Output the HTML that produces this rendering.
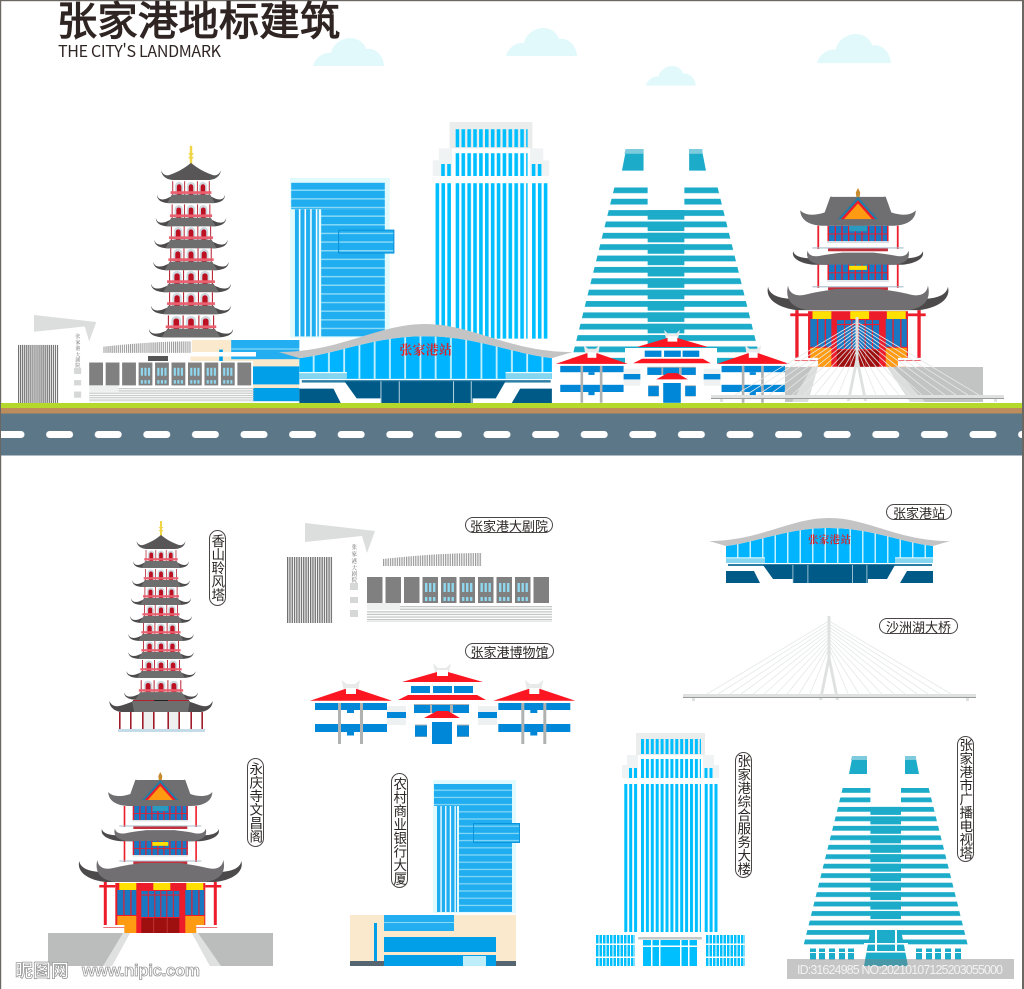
<!DOCTYPE html>
<html lang="zh"><head><meta charset="utf-8"><title>张家港地标建筑</title>
<style>
html,body{margin:0;padding:0;background:#fff}
#w{position:relative;width:1024px;height:989px;overflow:hidden;background:#fff;font-family:"Liberation Sans","Noto Sans CJK SC",sans-serif}
svg{position:absolute;left:0;top:0}
.l{position:absolute;box-sizing:border-box;background:#fff;border:1px solid #4a4646;border-radius:9px;color:#2b2424;font-size:13px;line-height:1;display:flex;align-items:center;justify-content:center;white-space:nowrap;font-family:"Noto Sans CJK SC",sans-serif}
.v{writing-mode:vertical-rl;text-orientation:upright;font-size:13.5px}
</style></head><body><div id="w">
<svg width="1024" height="989" viewBox="0 0 1024 989" xmlns="http://www.w3.org/2000/svg">
<defs>
<pattern id="pT" patternUnits="userSpaceOnUse" x="641" y="0" width="4.9" height="10"><rect width="3" height="10" fill="#00bfff"/></pattern>
<pattern id="pG" patternUnits="userSpaceOnUse" x="596" y="0" width="3.5" height="10"><rect width="2.5" height="10" fill="#00bfff"/></pattern>
<pattern id="pR" patternUnits="userSpaceOnUse" x="0" y="788" width="10" height="9.47"><rect width="10" height="4.8" fill="#1cacc9"/></pattern>
<pattern id="pB" patternUnits="userSpaceOnUse" x="0" y="784" width="10" height="7.2"><rect width="10" height="7.2" fill="#20aef0"/><rect y="5.6" width="10" height="1.2" fill="#8ad9f7"/></pattern>
<pattern id="pBv" patternUnits="userSpaceOnUse" x="437" y="0" width="4.7" height="10"><rect width="3.4" height="10" fill="#20aef0"/></pattern>
<pattern id="pH" patternUnits="userSpaceOnUse" x="287" y="0" width="2.3" height="10"><rect width="1.3" height="10" fill="#6f6f6f"/></pattern>
<pattern id="pA" patternUnits="userSpaceOnUse" x="383" y="0" width="2.3" height="10"><rect width="1.2" height="10" fill="#999"/></pattern>
<pattern id="pS" patternUnits="userSpaceOnUse" x="0" y="606" width="10" height="2.6"><rect width="10" height="1.3" fill="#c4c6c6"/></pattern>
<pattern id="pGl" patternUnits="userSpaceOnUse" x="726" y="0" width="12.5" height="10"><rect x="11" width="1.5" height="10" fill="#c2f0fc"/></pattern>
<pattern id="pD" patternUnits="userSpaceOnUse" x="-2.5" y="431" width="48.6" height="10"><rect width="27" height="7" rx="3.5" fill="#fff"/></pattern>

<path id="cl" d="M0,28C2,20 10,14 18,15C20,5 30,0 37,0C46,0 52,6 53,11C62,9 71,18 71,28Z" fill="#e2f9fb"/>

<g id="tw">
<rect x="636" y="733" width="69" height="22" fill="#ebecec"/>
<rect x="627" y="755" width="87" height="10" fill="#f0f3f3"/>
<rect x="622" y="765" width="97" height="13" fill="#f0f3f3"/>
<rect x="638" y="755" width="65" height="25" fill="#fff"/>
<rect x="641" y="739" width="60" height="15" fill="url(#pT)"/>
<rect x="641" y="759" width="60" height="19" fill="url(#pT)"/>
<g fill="#00bfff"><rect x="629" y="768" width="3" height="10"/><rect x="634" y="768" width="3" height="10"/><rect x="704.5" y="768" width="3" height="10"/><rect x="709.5" y="768" width="3" height="10"/>
<rect x="624.3" y="784" width="3" height="148"/><rect x="629.2" y="784" width="3" height="148"/><rect x="634.1" y="784" width="3" height="148"/><rect x="704.7" y="784" width="3" height="148"/><rect x="709.6" y="784" width="3" height="148"/><rect x="714.5" y="784" width="3" height="148"/></g>
<rect x="641" y="784" width="60" height="148" fill="url(#pT)"/>
</g>

<g id="rd">
<path d="M852.5,756H867V774H849Z" fill="#1cacc9"/><path d="M905,756H915.5L919,774H905Z" fill="#1cacc9"/>
<path d="M852,756H867V760H851Z" fill="#7ecbdd"/><path d="M905,756H916V760H905Z" fill="#7ecbdd"/>
<path d="M842.7,788H928.7L968.5,948H802.9Z" fill="url(#pR)"/>
<rect x="870.4" y="786" width="30.6" height="20" fill="#fff"/>
<g fill="#1cacc9"><rect x="870.4" y="806.9" width="30.6" height="8"/><rect x="870.4" y="816.4" width="30.6" height="8"/><rect x="870.4" y="825.8" width="30.6" height="8"/><rect x="870.4" y="835.3" width="30.6" height="8"/><rect x="870.4" y="844.8" width="30.6" height="8"/><rect x="870.4" y="854.2" width="30.6" height="8"/><rect x="870.4" y="863.7" width="30.6" height="8"/><rect x="870.4" y="873.2" width="30.6" height="8"/><rect x="870.4" y="882.7" width="30.6" height="8"/><rect x="870.4" y="892.1" width="30.6" height="8"/><rect x="870.4" y="901.6" width="30.6" height="8"/><rect x="870.4" y="911.1" width="30.6" height="8"/></g>
</g>

<g id="bk">
<rect x="350" y="915" width="166" height="51" fill="#fbe9cd"/>
<rect x="433" y="780" width="83" height="133" fill="#e0fafd"/>
<rect x="434" y="784" width="78" height="22" fill="url(#pB)"/>
<rect x="437" y="806" width="20" height="106" fill="#fff"/>
<rect x="437" y="806" width="20" height="106" fill="url(#pBv)"/>
<rect x="459" y="806" width="53" height="106" fill="url(#pB)"/>
<rect x="473.5" y="823.5" width="46" height="19" fill="url(#pB)" stroke="#0c95dd"/>
<rect x="384" y="915" width="70" height="16" fill="#22aef0"/><rect x="384" y="922" width="70" height="1" fill="#8ad9f7"/>
<rect x="384" y="937" width="112" height="15" fill="#009fe8"/>
<rect x="384" y="955" width="112" height="11" fill="#009fe8"/>
<rect x="463" y="956" width="23" height="10" fill="#bfeefb"/>
<rect x="350" y="961" width="34" height="5" fill="#566670"/><rect x="496" y="961" width="20" height="5" fill="#566670"/>
<rect x="374" y="923" width="3" height="38" fill="#009fe8"/>
</g>

<g id="tier"><path d="M-30,-7C-29,-3 -26,-2.5 -22,-3.5L-14,-7H14L22,-3.5C26,-2.5 29,-3 30,-7C30,-2.5 26,0 18,0H-18C-26,0 -30,-2.5 -30,-7Z" fill="#4d4b4c"/><path d="M-17,-7H17L21,0H-21Z" fill="#6f6e6f"/></g>
<g id="bd">
<rect x="-17" y="-18" width="34" height="12" fill="#fff"/>
<g fill="#b5202f"><rect x="-16.5" y="-18" width=".8" height="12"/><rect x="-6" y="-18" width=".8" height="12"/><rect x="5.2" y="-18" width=".8" height="12"/><rect x="15.7" y="-18" width=".8" height="12"/></g>
<g fill="#ced8de"><path d="M-14,-7V-14A3.5,3.5 0 0 1 -7,-14V-7Z"/><path d="M-3.5,-7V-14A3.5,3.5 0 0 1 3.5,-14V-7Z"/><path d="M7,-7V-14A3.5,3.5 0 0 1 14,-14V-7Z"/></g>
<g fill="#bd1022"><path d="M-12.5,-7V-13.5A2,2 0 0 1 -8.5,-13.5V-7Z"/><path d="M-2,-7V-13.5A2,2 0 0 1 2,-13.5V-7Z"/><path d="M8.5,-7V-13.5A2,2 0 0 1 12.5,-13.5V-7Z"/></g>
<rect x="-18" y="-9.8" width="36" height="2.2" fill="#e9606f"/>
</g>
<g id="pgd">
<rect x="-1" y="-28" width="2" height="15" fill="#f0d545"/><rect x="-2" y="-22" width="4" height="1.2" fill="#f0d545"/><rect x="-2" y="-19" width="4" height="1.2" fill="#f0d545"/>
<g transform="translate(0,19)scale(.93,1)"><use href="#bd"/><use href="#tier"/></g>
<path d="M0,-14C-6,-9 -12,-6 -18,-4C-20,-3.5 -23,-4 -24.5,-8C-24,-2.5 -19,0 -14,0H14C19,0 24,-2.5 24.5,-8C23,-4 20,-3.5 18,-4C12,-6 6,-9 0,-14Z" fill="#585657"/>
<g transform="translate(0,38)scale(.96,1)"><use href="#bd"/><use href="#tier"/></g>
<g transform="translate(0,56)"><use href="#bd"/><use href="#tier"/></g>
<g transform="translate(0,74)scale(1.03,1)"><use href="#bd"/><use href="#tier"/></g>
<g transform="translate(0,92)scale(1.09,1)"><use href="#bd"/><use href="#tier"/></g>
<g transform="translate(0,110)scale(1.09,1)"><use href="#bd"/><use href="#tier"/></g>
<g transform="translate(0,129)scale(1.15,1)"><use href="#bd"/><use href="#tier"/></g>
</g>
<g id="pgl">
<g transform="translate(0,151)scale(1.23,1.1)"><use href="#bd"/><use href="#tier"/></g>
<rect x="-28" y="151" width="56" height="1.2" fill="#b5202f"/><rect x="-7" y="151" width="14" height="1.2" fill="#222"/>
<path d="M-51.5,152C-49,158 -44,158 -38,156C-32,154 -28,152 -24,152H24C28,152 32,154 38,156C44,158 49,158 51.5,152C52,158 46,163 38,163H-38C-46,163 -52,158 -51.5,152Z" fill="#4d4b4c"/>
<path d="M-29,152H29L27,163H-27Z" fill="#6f6e6f"/>
<rect x="-18" y="163" width="11" height="17" fill="#eef0f0"/><rect x="7" y="163" width="11" height="17" fill="#eef0f0"/>
<g fill="#a01c2b"><rect x="-42" y="163" width="1.6" height="17"/><rect x="-31" y="163" width="1.6" height="17"/><rect x="-19" y="163" width="1.6" height="17"/><rect x="-8" y="163" width="1.6" height="17"/><rect x="6.4" y="163" width="1.6" height="17"/><rect x="17.4" y="163" width="1.6" height="17"/><rect x="29.4" y="163" width="1.6" height="17"/><rect x="40.4" y="163" width="1.6" height="17"/></g>
<rect x="-43" y="180" width="87" height="3" fill="#c5dbe8"/>
</g>

<g id="rf"><path d="M-81,89C-80,96 -72,100 -56,100H56C72,100 80,96 81,89C84,100 72,108 55,110H-55C-72,108 -84,100 -81,89Z" fill="#4c4a4b"/><path d="M-63,88C-62,96 -55,98 -47,96C-35,93 -25,92 -20,91H20C25,92 35,93 47,96C55,98 62,96 63,88C66,100 60,108 45,110H-45C-60,108 -66,100 -63,88Z" fill="#716f71"/></g>
<g id="fl"><rect x="-27.5" y="0" width="55" height="14" fill="#1a78c2"/><g fill="#ec1c2a"><rect x="-27.5" width="1.4" height="14"/><rect x="-21" width="1.2" height="14"/><rect x="-15" width="1.2" height="14"/><rect x="-9" width="1.2" height="14"/><rect x="-3" width="1.2" height="14"/><rect x="3" width="1.2" height="14"/><rect x="9" width="1.2" height="14"/><rect x="15" width="1.2" height="14"/><rect x="21" width="1.2" height="14"/><rect x="26.1" width="1.4" height="14"/><rect x="-27.5" y="7" width="55" height=".8"/></g>
<rect x="-36.6" y="0" width="1.6" height="21" fill="#ec1c2a"/><rect x="35" y="0" width="1.6" height="21" fill="#ec1c2a"/>
<rect x="-34" y="14" width="68" height="6" fill="#fff"/><rect x="-28" y="14.5" width="56" height=".8" fill="#c7cdd3"/><rect x="-41" y="19.5" width="82" height="1" fill="#a9bccb"/>
<rect x="-27" y="20.5" width="54" height="2.5" fill="#c3303c"/></g>
<g id="pv">
<path d="M0,0L2,4L1.5,8H-1.5L-2,4Z" fill="#c78a2d"/>
<use href="#fl" transform="translate(0,34)"/>
<rect x="-8" y="34" width="16" height="5" fill="#2a9bc0"/>
<path d="M-24,7.5V8H24V7.5L25,8L30,22C38,25 48,25 52,20C52,28 45,34 30,34H-30C-45,34 -52,28 -52,20C-48,25 -38,25 -30,22L-25,8Z" fill="#6f6e70"/>
<path d="M-18,28L0,8L18,28Z" fill="#1f7ea8"/><path d="M-15.5,28L0,11L15.5,28Z" fill="#ec1c2a"/><path d="M-12.5,28L0,14L12.5,28Z" fill="#ff9b12"/>
<use href="#rf" transform="translate(0,5.4)scale(.72,.58)"/>
<use href="#fl" transform="translate(0,69)"/>
<rect x="-8" y="70" width="16" height="3.8" fill="#ffe000"/>
<rect x="-45" y="111" width="90" height="50" fill="#ec1c2a"/>
<rect x="-43" y="118" width="19" height="25" fill="#1a78c2"/><rect x="25" y="118" width="19" height="25" fill="#1a78c2"/>
<rect x="-37" y="118" width="1.2" height="25" fill="#ec1c2a"/><rect x="-30" y="118" width="1.2" height="25" fill="#ec1c2a"/><rect x="31" y="118" width="1.2" height="25" fill="#ec1c2a"/><rect x="38" y="118" width="1.2" height="25" fill="#ec1c2a"/>
<rect x="-19" y="119" width="38" height="26" fill="#1a78c2"/>
<g fill="#ec1c2a"><rect x="-19" y="122.5" width="38" height="1"/><rect x="-12.5" y="119" width="1" height="26"/><rect x="-6" y="119" width="1" height="26"/><rect x="0" y="119" width="1" height="26"/><rect x="6" y="119" width="1" height="26"/><rect x="12.5" y="119" width="1" height="26"/></g>
<rect x="-19" y="146" width="38" height="15" fill="#9e0f10"/><rect x="-7" y="146" width=".8" height="15" fill="#c93a3a"/><rect x="6.5" y="146" width=".8" height="15" fill="#c93a3a"/>
<rect x="-43" y="144" width="19" height="17" fill="#ff9b12"/><rect x="25" y="144" width="19" height="17" fill="#ff9b12"/>
<rect x="-41" y="111" width="17" height="7" fill="#ffe000"/><rect x="-7" y="111" width="17" height="7" fill="#ffe000"/><rect x="26" y="111" width="17" height="7" fill="#ffe000"/>
<rect x="-61" y="113" width="16" height="2.5" fill="#ec1c2a"/><rect x="45" y="113" width="16" height="2.5" fill="#ec1c2a"/>
<rect x="-56.5" y="110" width="3" height="51" fill="#ec1c2a"/><rect x="53.5" y="110" width="3" height="51" fill="#ec1c2a"/>
<rect x="-57" y="153" width="21" height="8" fill="#fff"/><rect x="36" y="153" width="21" height="8" fill="#fff"/>
<rect x="-57" y="155" width="21" height=".9" fill="#ec6a72"/><rect x="36" y="155" width="21" height=".9" fill="#ec6a72"/>
<use href="#rf"/>
</g>

<g id="bg">
<g id="cb" stroke="#e6e8e8" stroke-width=".8" fill="none"><path d="M707,694L829,621M718,694L829,624M730,694L829,627M741,694L829,630M753,694L829,633M764,694L829,636M776,694L829,639M787,694L829,642M799,694L829,645M810,694L829,648"/></g>
<use href="#cb" transform="translate(1658,0)scale(-1,1)"/>
<rect x="692" y="698" width="3" height="3" fill="#dfe1e1"/><rect x="966" y="698" width="3" height="3" fill="#dfe1e1"/>
<path d="M827.5,616H830.5V658L839,700H836L829,665L822,700H819L827.5,658Z" fill="#dfe1e1"/>
<rect x="683" y="694" width="293" height="4" fill="#dfe1e1"/><rect x="683" y="697" width="293" height="1" fill="#9a9c9c"/>
</g>

<g id="st">
<rect x="726" y="530" width="207" height="53" fill="#fff"/>
<path d="M726,546C758,542 788,528 829,528C870,528 900,542 933,546V563H726Z" fill="#00b4ff"/>
<path d="M726,546C758,542 788,528 829,528C870,528 900,542 933,546V563H726Z" fill="url(#pGl)"/>
<rect x="726" y="558" width="39" height="5" fill="#84d6f0"/><rect x="895" y="558" width="38" height="5" fill="#84d6f0"/>
<rect x="726" y="557.3" width="39" height="1" fill="#e8fbff"/><rect x="895" y="557.3" width="38" height="1" fill="#e8fbff"/>
<rect x="728" y="564" width="204" height="2" fill="#2c7da3"/>
<path d="M763,565L773,579H793V583H868V579H887L895,565Z" fill="#005a87"/>
<path d="M726,571H754L760,583H726Z" fill="#005a87"/><path d="M907,571H933V583H900Z" fill="#005a87"/>
<g fill="#bcd6e2"><rect x="792.5" y="565" width=".8" height="18"/><rect x="807.5" y="565" width=".8" height="18"/><rect x="852" y="565" width=".8" height="18"/><rect x="866.5" y="565" width=".8" height="18"/></g>
<path d="M709,541C760,541 790,518 829,518C868,518 898,541 950,541L933,546C900,542 870,528 829,528C788,528 758,542 726,546Z" fill="#c4c4c4"/>
<text x="808" y="543" font-family="'Noto Serif CJK SC','Liberation Serif',serif" font-weight="700" font-size="10.5" fill="#d8232a" textLength="43">张家港站</text>
</g>

<g id="th">
<path d="M305,523L375,531L367,553L362,536L305,542Z" fill="#dcdddd"/>
<rect x="287" y="557" width="46" height="66" fill="url(#pH)"/>
<text transform="translate(351.5,549)" font-family="'Noto Serif CJK SC',serif" font-size="5.6" fill="#666">张</text>
<text transform="translate(351.5,556)" font-family="'Noto Serif CJK SC',serif" font-size="5.6" fill="#666">家</text>
<text transform="translate(351.5,563)" font-family="'Noto Serif CJK SC',serif" font-size="5.6" fill="#666">港</text>
<text transform="translate(351.5,570)" font-family="'Noto Serif CJK SC',serif" font-size="5.6" fill="#666">大</text>
<text transform="translate(351.5,576)" font-family="'Noto Serif CJK SC',serif" font-size="5.6" fill="#666">剧</text>
<text transform="translate(351.5,582)" font-family="'Noto Serif CJK SC',serif" font-size="5.6" fill="#666">院</text>
<rect x="350" y="583" width="8" height="7" fill="#d6d7d7"/><rect x="350" y="597" width="8" height="6" fill="#d6d7d7"/><rect x="350" y="610" width="8" height="7" fill="#d6d7d7"/>
<path d="M383,559C420,555 450,553 482,553V566H383Z" fill="url(#pA)"/>
<g fill="#808080"><rect x="367" y="577" width="15.5" height="26"/><rect x="385.5" y="577" width="15.5" height="26"/><rect x="404" y="577" width="15.5" height="26"/><rect x="422.5" y="577" width="15.5" height="26"/><rect x="441" y="577" width="15.5" height="26"/><rect x="459.5" y="577" width="15.5" height="26"/><rect x="478" y="577" width="15.5" height="26"/><rect x="496.5" y="577" width="15.5" height="26"/><rect x="515" y="577" width="15.5" height="26"/><rect x="533.5" y="577" width="15.5" height="26"/></g>
<g id="wn" fill="#8fd7ee"><rect x="425" y="583" width="2.4" height="9"/><rect x="429" y="583" width="2.4" height="9"/><rect x="433" y="583" width="2.4" height="9"/><rect x="425" y="597" width="2.4" height="4"/><rect x="429" y="597" width="2.4" height="4"/><rect x="433" y="597" width="2.4" height="4"/></g>
<use href="#wn" x="18.5"/><use href="#wn" x="37"/><use href="#wn" x="55.5"/><use href="#wn" x="74"/><use href="#wn" x="92.5"/>
<rect x="367" y="603" width="33" height="7" fill="#eef0f0"/>
<rect x="367" y="610" width="185" height="12" fill="url(#pS)"/>
<rect x="400" y="606" width="152" height="5" fill="url(#pS)"/>
</g>

<g id="mp">
<path d="M341.7,680L346.7,684H355L360,680L358.3,689H343.3Z" fill="#e8e9e9"/>
<path d="M310,700.7L345,689H357L392,700.7Z" fill="#fb1622"/>
<rect x="346" y="688" width="10" height="6" fill="#fff"/>
<g fill="#0087d7"><rect x="315" y="703" width="72" height="7"/><rect x="347" y="710" width="7" height="3"/><rect x="315" y="724" width="72" height="8"/><rect x="347" y="732" width="7" height="3.5"/></g>
<rect x="338" y="703" width="3" height="41" fill="#b0b2b2"/><rect x="360" y="703" width="3" height="41" fill="#b0b2b2"/>
</g>
<g id="ms">
<use href="#mp"/><use href="#mp" x="183.3"/>
<rect x="387" y="706" width="19" height="19" fill="#eef1f1"/><rect x="478" y="706" width="19" height="19" fill="#eef1f1"/>
<rect x="387" y="712" width="19" height="6" fill="#0087d7"/><rect x="478" y="712" width="19" height="6" fill="#0087d7"/>
<path d="M433,663L438,668H446L451,663L449,672H435Z" fill="#e8e9e9"/>
<path d="M402,682L437,672H448L483,682Z" fill="#fb1622"/>
<rect x="437" y="670" width="11" height="6" fill="#fff"/>
<g fill="#0087d7"><rect x="411" y="686" width="19" height="7"/><rect x="433" y="686" width="19" height="7"/><rect x="454" y="686" width="19" height="7"/></g>
<path d="M398,700L408,695H477L486,700Z" fill="#fb1622"/>
<rect x="414" y="704" width="55" height="9" fill="#b0b2b2"/>
<g fill="#0087d7"><rect x="414" y="705" width="16" height="8"/><rect x="432" y="705" width="18" height="8"/><rect x="453" y="705" width="16" height="8"/></g>
<path d="M424,718L437,711H448L460,718Z" fill="#fb1622"/>
<rect x="432" y="722" width="20" height="22" fill="#0087d7"/>
<rect x="415" y="724.5" width="12" height="12.5" fill="#b0b2b2"/><rect x="457" y="724.5" width="12" height="12.5" fill="#b0b2b2"/>
<rect x="415" y="725.5" width="12" height="11" fill="#0087d7"/><rect x="457" y="725.5" width="12" height="11" fill="#0087d7"/>
</g>
</defs>

<!-- frame -->
<rect x="0" y="0" width="1024" height="1.2" fill="#6b6763"/><rect x="0" y="0" width="1.2" height="989" fill="#6b6763"/><rect x="1022" y="0" width="2" height="989" fill="#6b6763"/>

<text x="57" y="35" font-family="'Noto Sans CJK SC',sans-serif" font-weight="400" font-size="40" fill="#2f2523" stroke="#2f2523" stroke-width="1.2" textLength="283">张家港地标建筑</text>
<text x="58" y="57" font-family="'Noto Sans CJK SC','Liberation Sans',sans-serif" font-size="16" fill="#2f2523" textLength="163">THE CITY'S LANDMARK</text>

<use href="#cl" transform="translate(313,38)"/><use href="#cl" transform="translate(506,28)"/><use href="#cl" transform="translate(646,66)scale(.7)"/><use href="#cl" transform="translate(817,34)scale(1.04)"/>

<!-- hero skyline -->
<use href="#tw" transform="translate(491,122)scale(1.2)translate(-670.5,-733)"/>
<use href="#rd" transform="translate(666,149)scale(1.2)translate(-885.7,-756)"/>
<use href="#bk" transform="translate(290,178)scale(1.2)translate(-433,-780)"/>
<g transform="translate(191,180)scale(1.22)"><use href="#pgd"/></g>
<rect x="58" y="361" width="195" height="43" fill="#fff"/>
<rect x="58" y="340" width="34" height="22" fill="#fff"/><rect x="88" y="340" width="104" height="12" fill="#fff"/>
<rect x="88" y="352" width="168" height="4.5" fill="#fff"/>
<rect x="148" y="356" width="20" height="5" fill="#555"/>
<rect x="18" y="340" width="40" height="63" fill="#fff"/>
<use href="#th" transform="translate(18,315)scale(.89,.88)translate(-287,-523)"/>
<use href="#st" transform="translate(425,324)scale(1.22)translate(-829,-518)"/>
<rect x="556" y="368" width="232" height="35" fill="#fff"/>
<rect x="625" y="348" width="92" height="20" fill="#fff"/>
<use href="#ms" transform="translate(672,338)scale(.88,.9)translate(-442,-672)"/>
<use href="#pv" transform="translate(858,188)scale(1.11)"/>
<rect x="785" y="367" width="198" height="35" fill="#c2c3c3"/>
<path d="M812,367H893L925,402H792Z" fill="#dcdddd"/><path d="M818,367H887L910,402H808Z" fill="#fff"/>
<use href="#bg" transform="translate(28,-299)"/>

<!-- road -->
<rect x="1" y="403" width="1021" height="5" fill="#b5d92b"/>
<rect x="1" y="408" width="1021" height="5.5" fill="#bc8c5d"/>
<rect x="1" y="413.5" width="1021" height="42" fill="#5c7788"/>
<rect x="1" y="431" width="1021" height="7" fill="url(#pD)"/>

<!-- lower items -->
<g transform="translate(161,549)"><use href="#pgd"/><use href="#pgl"/></g>
<use href="#th"/>
<use href="#st"/>
<use href="#bg"/>
<use href="#ms"/>

<rect x="48" y="933" width="225" height="33" fill="#bbbcbc"/>
<path d="M103,966L123,933H130L112,966Z" fill="#dfe0e0"/><path d="M112,966L130,933H192L210,966Z" fill="#fff"/><path d="M210,966L192,933H198L221,966Z" fill="#dfe0e0"/>
<use href="#pv" transform="translate(160.3,772)"/>

<use href="#bk"/>
<use href="#tw"/>
<rect x="596" y="935" width="39" height="31" fill="url(#pG)"/><rect x="596" y="943.5" width="39" height="1.5" fill="#fff"/><rect x="596" y="956.5" width="39" height="1.5" fill="#fff"/>
<g transform="translate(110,0)"><rect x="596" y="935" width="39" height="31" fill="url(#pG)"/><rect x="596" y="943.5" width="39" height="1.5" fill="#fff"/><rect x="596" y="956.5" width="39" height="1.5" fill="#fff"/></g>
<rect x="638" y="937" width="64" height="2.5" rx="1" fill="#c4c8c8"/>
<rect x="643" y="940" width="54" height="26" fill="#00bfff"/>
<g fill="#fff"><rect x="643" y="945.5" width="54" height="1.5"/><rect x="651" y="940" width="1.5" height="26"/><rect x="659" y="940" width="1.5" height="26"/><rect x="680" y="940" width="1.5" height="26"/><rect x="688" y="940" width="1.5" height="26"/></g>

<use href="#rd"/>
<g fill="#1cacc9"><rect x="810" y="948.5" width="6" height="11"/><rect x="819" y="948.5" width="6" height="11"/><rect x="829" y="948.5" width="6" height="11"/><rect x="839" y="948.5" width="6" height="11"/><rect x="848" y="948.5" width="6" height="11"/><rect x="916" y="948.5" width="6" height="11"/><rect x="926" y="948.5" width="6" height="11"/><rect x="935" y="948.5" width="6" height="11"/><rect x="945" y="948.5" width="6" height="11"/><rect x="955" y="948.5" width="6" height="11"/></g>
<rect x="803" y="952" width="60" height="1" fill="#fff"/><rect x="908" y="952" width="60" height="1" fill="#fff"/>
<path d="M870.4,930H901L908,966H864Z" fill="#1cacc9"/>
<g fill="#fff"><rect x="864" y="943" width="44" height="1.6"/><rect x="864" y="951" width="44" height="1.6"/><rect x="875" y="930" width="2" height="21"/><rect x="895" y="930" width="2" height="21"/></g>
<rect x="870" y="926" width="31" height="4" fill="#fff"/>

<!-- watermarks -->
<rect x="787" y="959" width="227" height="20" fill="#808080" fill-opacity=".45"/>
<text x="797" y="974" font-family="'Liberation Sans',sans-serif" font-size="12.5" fill="#f2f2f2" textLength="206">ID:31624985 NO:20210107125203055000</text>
<text x="15" y="977" font-family="'Noto Sans CJK SC',sans-serif" font-weight="700" font-size="18" fill="#fff" stroke="#9a9a9a" stroke-width=".8" textLength="54">昵图网</text>
<text x="82" y="976" font-family="'Liberation Sans',sans-serif" font-weight="700" font-size="17" fill="#fff" stroke="#9a9a9a" stroke-width=".8" textLength="118">www.nipic.com</text>
</svg>

<div class="l" style="left:465px;top:517px;width:88px;height:16px">张家港大剧院</div>
<div class="l" style="left:465px;top:643px;width:89px;height:16px">张家港博物馆</div>
<div class="l" style="left:886px;top:504px;width:66px;height:16px">张家港站</div>
<div class="l" style="left:879px;top:618px;width:79px;height:16px">沙洲湖大桥</div>
<div class="l v" style="left:209px;top:530px;width:17px;height:76px">香山聆风塔</div>
<div class="l v" style="left:247px;top:758px;width:17px;height:89px">永庆寺文昌阁</div>
<div class="l v" style="left:391px;top:773px;width:17px;height:115px">农村商业银行大厦</div>
<div class="l v" style="left:735px;top:752px;width:17px;height:126px">张家港综合服务大楼</div>
<div class="l v" style="left:957px;top:736px;width:17px;height:126px">张家港市广播电视塔</div>
</div></body></html>
